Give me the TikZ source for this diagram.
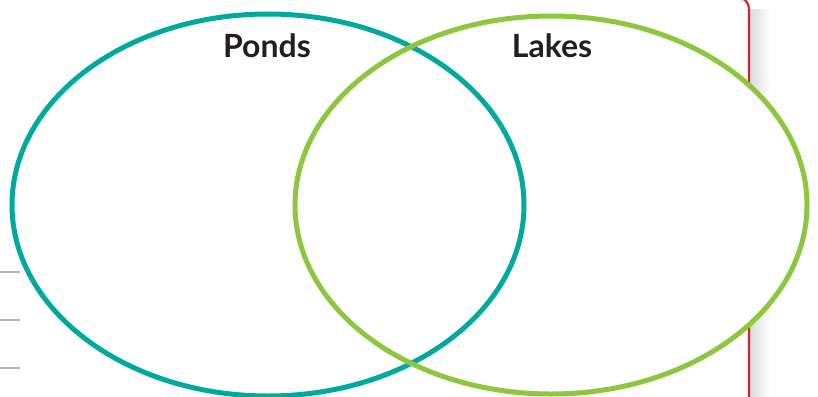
\documentclass[tikz,border=0pt]{standalone}
\usepackage{fontspec}
\setmainfont{Lato}
\definecolor{tealc}{HTML}{00A99D}
\definecolor{greenc}{HTML}{8DC63F}
\definecolor{redc}{HTML}{D2232A}
\definecolor{textc}{HTML}{231F20}
\definecolor{rulec}{HTML}{B5B5B5}
\begin{document}
\begin{tikzpicture}[x=1pt,y=-1pt,
  ring/.style={line width=5pt},
  label/.style={font=\fontsize{32}{34}\selectfont\bfseries, text=textc, inner sep=0pt, anchor=base},
  rule/.style={rulec, line width=1.5pt}]
\useasboundingbox (0,0) rectangle (818,396);
% shadow and red frame
\shade[left color=black!14, right color=white] (750,10) rectangle (770,396);
\draw[redc, line width=2.2pt, rounded corners=12pt] (600,-3) -- (749,-3) -- (749,400);
% gray rules at left
\coordinate (r1a) at (0,272); \coordinate (r1b) at (20,272);
\coordinate (r2a) at (0,320); \coordinate (r2b) at (20,320);
\coordinate (r3a) at (0,368); \coordinate (r3b) at (20,368);
\draw[rule] (r1a) -- (r1b);
\draw[rule] (r2a) -- (r2b);
\draw[rule] (r3a) -- (r3b);
% ellipses
\coordinate (pc) at (268,205);
\coordinate (lc) at (551,205);
\fill[white] (pc) ellipse [x radius=256, y radius=191];
\fill[white] (lc) ellipse [x radius=256, y radius=189];
\draw[ring, tealc] (pc) ellipse [x radius=256, y radius=191];
\draw[ring, greenc] (lc) ellipse [x radius=256, y radius=189];
\node[label] (ponds) at (267,58) {Ponds};
\node[label] (lakes) at (552,58) {Lakes};
\end{tikzpicture}
\end{document}
